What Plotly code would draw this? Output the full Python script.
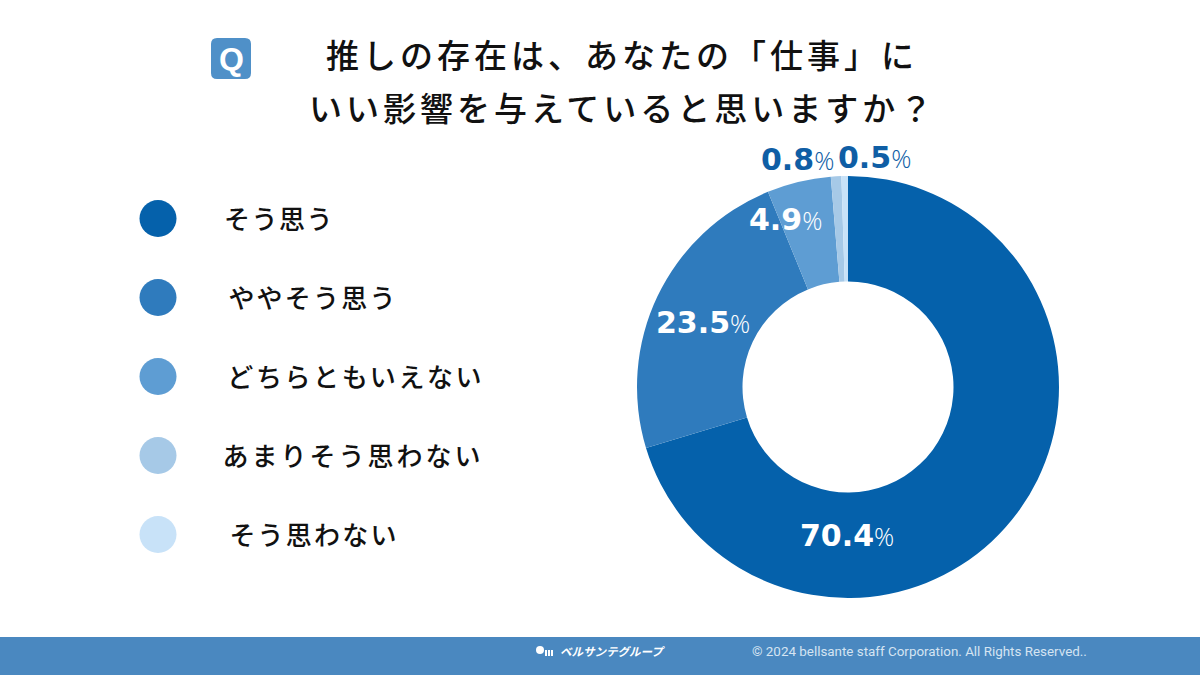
import plotly.graph_objects as go

# --- data ---
categories = ["そう思う", "ややそう思う", "どちらともいえない", "あまりそう思わない", "そう思わない"]
values = [70.4, 23.5, 4.9, 0.8, 0.5]
colors = ["#0561ab", "#2f7bbd", "#5e9dd3", "#a6c9e7", "#c8e2f8"]
title_lines = ["推しの存在は、あなたの「仕事」に", "いい影響を与えていると思いますか？"]
footer_text = "© 2024 bellsante staff Corporation. All Rights Reserved.."
logo_text = "ベルサンテグループ"

W, H = 1200, 675
CX, CY, R = 848, 387, 211
JP = "Noto Sans CJK JP"
FOOTER = "#4a88c0"

fig = go.Figure()

fig.add_trace(go.Pie(
    values=values, labels=categories, sort=False, direction="clockwise", rotation=0,
    hole=0.5, textinfo="none", showlegend=False,
    marker=dict(colors=colors, line=dict(width=0)),
    domain=dict(x=[(CX - R) / W, (CX + R) / W], y=[1 - (CY + R) / H, 1 - (CY - R) / H]),
))

# legend dots, on a full-canvas pixel scale
LEG_X, LEG_Y0, LEG_STEP = 158, 218.5, 79
fig.add_trace(go.Scatter(
    x=[LEG_X] * len(categories),
    y=[LEG_Y0 + i * LEG_STEP for i in range(len(categories))],
    mode="markers", showlegend=False, hoverinfo="skip",
    marker=dict(size=37, color=colors, line=dict(width=0)),
))

ann = []
def text(x, y, s, size, color, **kw):
    ann.append(dict(x=x, y=y, xref="x", yref="y", text=s, showarrow=False,
                    xanchor="center", yanchor="middle",
                    font=dict(size=size, color=color, family=kw.pop("family", JP), **kw)))

# title
text(622, 54, title_lines[0], 33, "#111111", weight=500)
text(622, 107, title_lines[1], 33, "#111111", weight=500)

# legend labels (centres)
label_cx = [279, 313, 355, 353, 314]
for i, c in enumerate(categories):
    text(label_cx[i], LEG_Y0 + i * LEG_STEP - 1.5, c, 26, "#111111", weight=500)

# slice labels
def pct(v, color, x, y):
    s = (f"<b>{v}</b><span style=\"font-family:'Open Sans';font-weight:300;font-size:25px\">%</span>")
    text(x, y, s, 30, color, family="DejaVu Sans")

pct(values[0], "#ffffff", 847, 535)
pct(values[1], "#ffffff", 703, 322)
pct(values[2], "#ffffff", 785, 219)
pct(values[3], "#0f5ea5", 797, 159)
pct(values[4], "#0f5ea5", 874, 157)

# Q badge
text(231, 58.5, "<b>Q</b>", 32, "#ffffff", family="Liberation Sans")

# footer
text(919.5, 651, footer_text, 13.4, "#d5e4f2", family="Roboto")
text(612, 651, f"<i><b>{logo_text}</b></i>", 11.5, "#ffffff")

shapes = [
    dict(type="rect", xref="x", yref="y", x0=0, x1=W, y0=637, y1=H, fillcolor=FOOTER, line_width=0, layer="below"),
    dict(type="path", xref="x", yref="y", layer="below", line_width=0, fillcolor="#4f90c8",
         path="M 217 38 L 245 38 Q 251 38 251 44 L 251 73 Q 251 79 245 79 L 217 79 Q 211 79 211 73 L 211 44 Q 211 38 217 38 Z"),
    dict(type="circle", xref="x", yref="y", x0=536, x1=544, y0=646, y1=654, fillcolor="#ffffff", line_width=0),
    dict(type="rect", xref="x", yref="y", x0=545, x1=547, y0=650, y1=656, fillcolor="#ffffff", line_width=0),
    dict(type="rect", xref="x", yref="y", x0=548, x1=550, y0=650, y1=656, fillcolor="#ffffff", line_width=0),
    dict(type="rect", xref="x", yref="y", x0=551, x1=553, y0=650, y1=656, fillcolor="#ffffff", line_width=0),
]

fig.update_layout(
    width=W, height=H, margin=dict(l=0, r=0, t=0, b=0),
    paper_bgcolor="#ffffff", plot_bgcolor="rgba(0,0,0,0)",
    xaxis=dict(range=[0, W], visible=False, domain=[0, 1], fixedrange=True),
    yaxis=dict(range=[H, 0], visible=False, domain=[0, 1], fixedrange=True),
    annotations=ann, shapes=shapes,
)

# Letter-spacing for the Japanese texts, which Plotly has no attribute for
post = """
document.body.style.margin = '0';
var sp = {'推しの': '4px', 'いい影': '4px', 'そう思う': '1.5px', 'ややそう': '2.2px',
          'どちらと': '2.6px', 'あまりそ': '3px', 'そう思わ': '2.2px'};
document.querySelectorAll('.annotation-text').forEach(function (t) {
  for (var k in sp) { if (t.textContent.indexOf(k) === 0) { t.style.letterSpacing = sp[k]; } }
});
"""
fig.write_html("out.html", post_script=post, config={"displayModeBar": False})
